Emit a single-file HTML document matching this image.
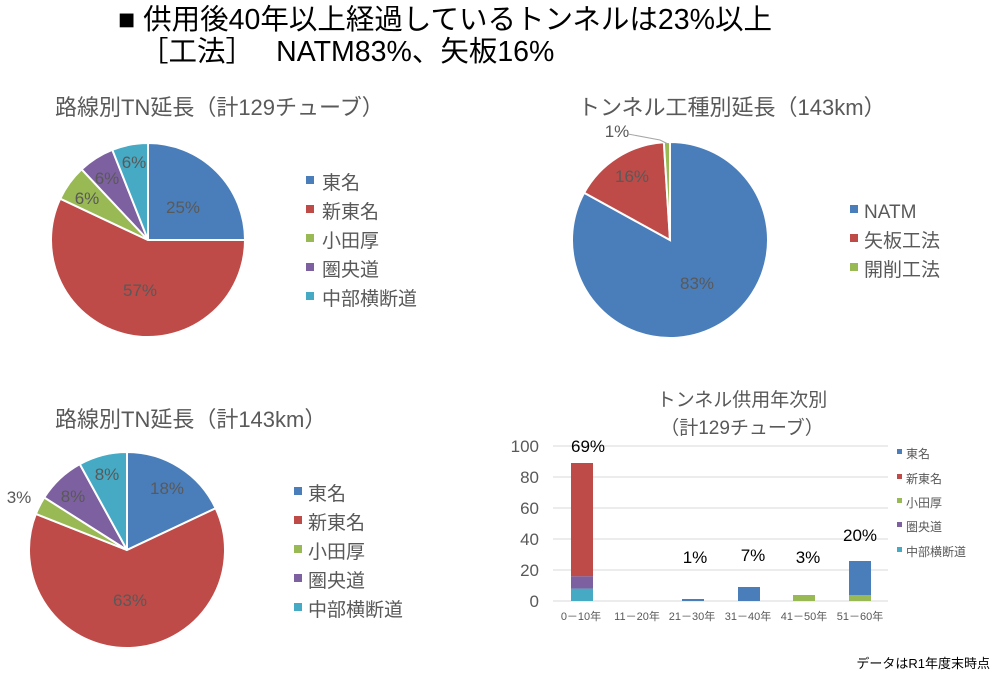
<!DOCTYPE html>
<html><head><meta charset="utf-8"><style>
body{margin:0;background:#fff}
svg text{font-family:"Liberation Sans","Noto Sans CJK JP",sans-serif}
</style></head><body>
<svg id="s" width="1000" height="678" xmlns="http://www.w3.org/2000/svg">
<text x="118" y="29" font-size="28.5" fill="#000">■ 供用後40年以上経過しているトンネルは23%以上</text>
<text x="140" y="61" font-size="28.5" fill="#000">［工法］　 NATM83%、矢板16%</text>
<text x="55" y="115" font-size="22" fill="#595959">路線別TN延長（計129チューブ）</text>
<text x="578" y="115" font-size="22" fill="#595959">トンネル工種別延長（143km）</text>
<text x="55" y="427" font-size="22" fill="#595959">路線別TN延長（計143km）</text>
<g id="pies"></g>
<g font-size="17" fill="#595959" text-anchor="middle">
<text x="183" y="213">25%</text><text x="140" y="296">57%</text><text x="87" y="204">6%</text><text x="107" y="184">6%</text><text x="134" y="168">6%</text>
<text x="632" y="182">16%</text><text x="697" y="289">83%</text><text x="617" y="137">1%</text>
<text x="167" y="494">18%</text><text x="130" y="606">63%</text><text x="19" y="503">3%</text><text x="73" y="502">8%</text><text x="107" y="480">8%</text>
</g>
<polyline points="628,134 660,140 668,144" fill="none" stroke="#a6a6a6" stroke-width="1"/>
<g font-size="19" fill="#595959">
<rect x="306" y="176" width="8" height="8" fill="#4a7ebb"/><text x="322" y="189">東名</text>
<rect x="306" y="205" width="8" height="8" fill="#be4b48"/><text x="322" y="218">新東名</text>
<rect x="306" y="234" width="8" height="8" fill="#98b954"/><text x="322" y="247">小田厚</text>
<rect x="306" y="263" width="8" height="8" fill="#7d60a0"/><text x="322" y="276">圏央道</text>
<rect x="306" y="292" width="8" height="8" fill="#46aac5"/><text x="322" y="305">中部横断道</text>
<rect x="850" y="205" width="8" height="8" fill="#4a7ebb"/><text x="864" y="218">NATM</text>
<rect x="850" y="234" width="8" height="8" fill="#be4b48"/><text x="864" y="247">矢板工法</text>
<rect x="850" y="263" width="8" height="8" fill="#98b954"/><text x="864" y="276">開削工法</text>
<rect x="294" y="487" width="8" height="8" fill="#4a7ebb"/><text x="308" y="500">東名</text>
<rect x="294" y="516" width="8" height="8" fill="#be4b48"/><text x="308" y="529">新東名</text>
<rect x="294" y="545" width="8" height="8" fill="#98b954"/><text x="308" y="558">小田厚</text>
<rect x="294" y="574" width="8" height="8" fill="#7d60a0"/><text x="308" y="587">圏央道</text>
<rect x="294" y="603" width="8" height="8" fill="#46aac5"/><text x="308" y="616">中部横断道</text>
</g>
<g font-size="19" fill="#595959" text-anchor="middle"><text x="742" y="406">トンネル供用年次別</text><text x="742" y="434">（計129チューブ）</text></g>
<g stroke="#d9d9d9" stroke-width="1">
<line x1="553" y1="446" x2="888" y2="446"/><line x1="553" y1="477" x2="888" y2="477"/><line x1="553" y1="508" x2="888" y2="508"/><line x1="553" y1="539" x2="888" y2="539"/><line x1="553" y1="570" x2="888" y2="570"/><line x1="553" y1="601" x2="888" y2="601"/>
</g>
<g font-size="17" fill="#595959" text-anchor="end">
<text x="539" y="452">100</text><text x="539" y="483">80</text><text x="539" y="514">60</text><text x="539" y="545">40</text><text x="539" y="576">20</text><text x="539" y="607">0</text>
</g>
<g>
<rect x="571" y="588.6" width="22" height="12.4" fill="#46aac5"/>
<rect x="571" y="576.2" width="22" height="12.4" fill="#7d60a0"/>
<rect x="571" y="463" width="22" height="113.2" fill="#be4b48"/>
<rect x="682" y="599" width="22" height="2" fill="#4a7ebb"/>
<rect x="738" y="587" width="22" height="14" fill="#4a7ebb"/>
<rect x="793" y="595" width="22" height="6" fill="#98b954"/>
<rect x="849" y="595" width="22" height="6" fill="#98b954"/>
<rect x="849" y="561" width="22" height="34" fill="#4a7ebb"/>
</g>
<g font-size="11" fill="#595959" text-anchor="middle">
<text x="581" y="620">0－10年</text><text x="637" y="620">11－20年</text><text x="692" y="620">21－30年</text><text x="748" y="620">31－40年</text><text x="804" y="620">41－50年</text><text x="860" y="620">51－60年</text>
</g>
<g font-size="17" fill="#000" text-anchor="middle">
<text x="588" y="452">69%</text><text x="695" y="563">1%</text><text x="753" y="561">7%</text><text x="808" y="563">3%</text><text x="860" y="541">20%</text>
</g>
<g font-size="12" fill="#595959">
<rect x="897" y="449" width="5" height="5" fill="#4a7ebb"/><text x="906" y="458">東名</text>
<rect x="897" y="474" width="5" height="5" fill="#be4b48"/><text x="906" y="483">新東名</text>
<rect x="897" y="498" width="5" height="5" fill="#98b954"/><text x="906" y="507">小田厚</text>
<rect x="897" y="522" width="5" height="5" fill="#7d60a0"/><text x="906" y="531">圏央道</text>
<rect x="897" y="547" width="5" height="5" fill="#46aac5"/><text x="906" y="556">中部横断道</text>
</g>
<text x="990" y="668" font-size="13" fill="#000" text-anchor="end">データはR1年度末時点</text>
</svg>
<script>
var C=['#4a7ebb','#be4b48','#98b954','#7d60a0','#46aac5'];
function pie(cx,cy,r,v,cols){var a=0,o='';v.forEach(function(p,i){var a1=a+p*2*Math.PI;
var x0=cx+r*Math.sin(a),y0=cy-r*Math.cos(a),x1=cx+r*Math.sin(a1),y1=cy-r*Math.cos(a1);
o+='<path d="M'+cx+','+cy+'L'+x0+','+y0+'A'+r+','+r+' 0 '+(p>0.5?1:0)+' 1 '+x1+','+y1+'Z" fill="'+cols[i]+'" stroke="#fff" stroke-width="2"/>';a=a1;});return o;}
document.getElementById('pies').innerHTML=
pie(148,240,97,[.25,.57,.06,.06,.06],C)+pie(670,240,98,[.83,.16,.01],C)+pie(127,550,98,[.18,.63,.03,.08,.08],C);
</script>
</body></html>
